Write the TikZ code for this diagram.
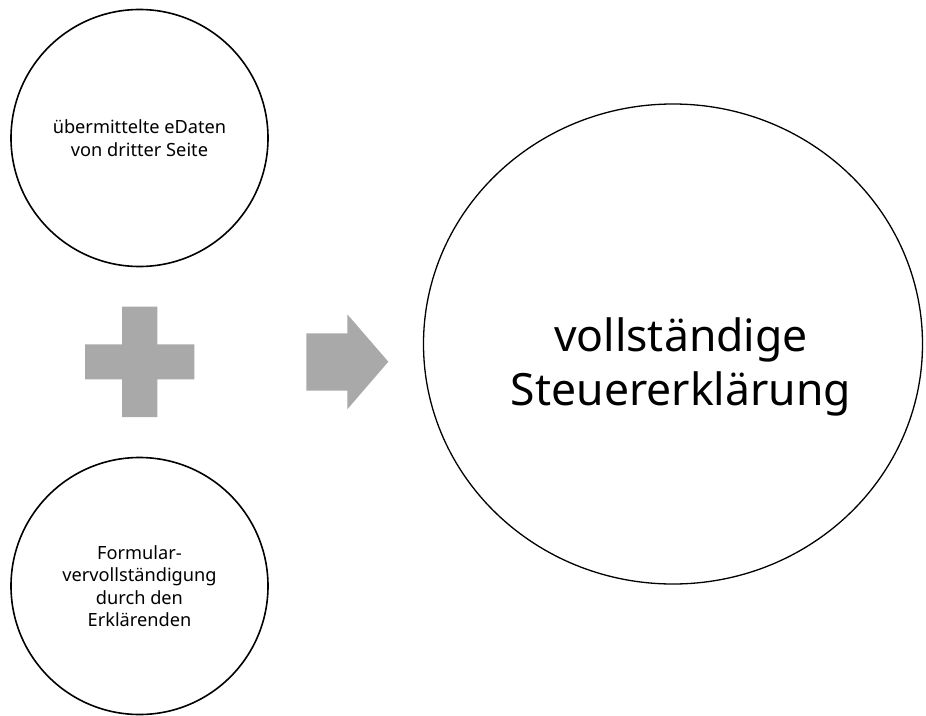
\documentclass[tikz,border=0pt]{standalone}
\usepackage{fontspec}
\setmainfont{Noto Sans}
\usetikzlibrary{shapes.geometric}
\definecolor{shapegray}{HTML}{A9A9A9}
\tikzset{
  smallcircle/.style={circle, draw=black, line width=1.6pt, minimum size=257pt, inner sep=0pt, align=center, font=\fontsize{18.2}{22.5}\selectfont},
  bigcircle/.style={ellipse, draw=black, line width=1.3pt, minimum width=499pt, minimum height=480pt, inner sep=0pt},
  bigtext/.style={align=center, inner sep=0pt, font=\fontsize{44.5}{54}\selectfont},
  grayshape/.style={fill=shapegray, draw=none}
}
\begin{document}
\begin{tikzpicture}[x=1pt,y=-1pt]
\useasboundingbox (0,0) rectangle (926,715);
\fill[white] (0,0) rectangle (926,715);
\node[smallcircle] (top) at (139.5,138) {übermittelte eDaten\\von dritter Seite};
\node[smallcircle] (bottom) at (139.5,586) {Formular-\\vervollständigung\\durch den\\Erklärenden};
\node[bigcircle] (result) at (673,344) {};
\node[bigtext] (resulttext) at (681,367) {vollständige\\Steuererklärung};
% plus sign
\fill[grayshape] (122,306.7) -- (157.3,306.7) -- (157.3,344.3) -- (194.3,344.3) -- (194.3,379.3) -- (157.3,379.3) -- (157.3,417) -- (122,417) -- (122,379.3) -- (85,379.3) -- (85,344.3) -- (122,344.3) -- cycle;
% arrow
\fill[grayshape] (306.3,333.3) -- (347.3,333.3) -- (347.3,314.3) -- (388.3,361.7) -- (347.3,409.3) -- (347.3,390.7) -- (306.3,390.7) -- cycle;
\end{tikzpicture}
\end{document}
